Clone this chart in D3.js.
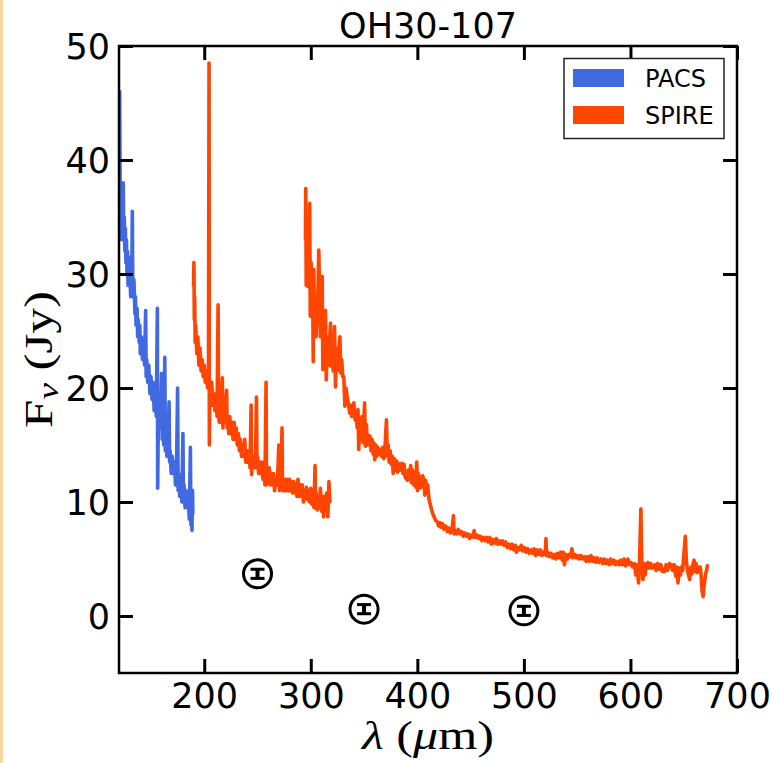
<!DOCTYPE html>
<html><head><meta charset="utf-8">
<script src="https://cdn.jsdelivr.net/npm/d3@7"></script>
<style>body{margin:0;background:#fff}svg{display:block}</style>
</head><body>
<script>
const title = "OH30-107";
const xTicks = [200,300,400,500,600,700];
const yTicks = [0,10,20,30,40,50];
const seriesNames = ["PACS","SPIRE"];
const seriesColors = ["#4169e1","#ff4500"];

const pacs = [[120.3,36],[120.6,46],[121,38],[121.5,35],[122,37],[122.5,33],[123,36],[123.5,34],[124,38],[124.5,33],[125,35],[125.5,32],[126,34],[126.5,31],[127,33],[127.5,30],[128,32],[128.5,29],[129,31.5],[129.5,29],[130,30.5],[131,28],[131.5,31],[132,29],[132.5,35.5],[133,28],[134,29.5],[135,26.5],[135.5,28],[136,25.5],[137,27],[137.5,24.5],[138,26],[139,24],[139.5,25.5],[140,23],[141,24.5],[142,22.5],[143,24],[144,22],[145,26.8],[145.5,21],[146,22.5],[147,20.5],[148,22],[149,19.5],[150,21],[151,19],[152,20.5],[153,18],[154,19.5],[155,17.5],[156,27],[156.3,11.2],[157,18],[158,16.5],[159,17.5],[160,21.3],[160.5,15.5],[161,16.8],[162,15],[163,22.7],[163.5,14.5],[164,16],[165,14],[166,15],[167,18.8],[167.5,13.5],[168,14.5],[169,12.5],[170,14],[171,12.5],[172,13.5],[173,11.5],[174,13],[175,20],[175.5,11],[176,12.5],[177,10.5],[178,12],[179,10],[180,16],[180.5,10],[181,11.5],[182,9.5],[183,11],[184,9.5],[185,10.5],[186,8.5],[187,14.8],[187.5,8],[188,9.5],[188.5,7.5],[189,11],[189.3,9]];

const ssw = [[190,29],[190.3,31],[190.7,26],[191,28],[191.5,24],[192,25.5],[193,23],[194,24.5],[195,22],[196,23.5],[197,21.5],[198,22.5],[199,21],[200,22],[201,20.5],[202,21.5],[203,20],[204,22],[204.5,48.5],[204.8,15],[205.3,20.5],[206,19],[207,20.5],[208,18.5],[209,19.5],[210,18],[211,19.5],[212,17.5],[213,27.3],[213.5,18],[214,17],[215,18.5],[216,17],[217,20.9],[217.5,16.5],[218,18],[219,17],[220,18.5],[221,19.8],[221.5,16.5],[222,17.5],[223,16],[224,17.5],[225,16],[226,17],[227,15.5],[228,17],[229,15.5],[230,16.5],[231,15],[232,16],[233,14.5],[234,15.5],[235,14],[236,15],[237,14],[238,15.5],[239,13.5],[240,14.5],[241,13.5],[242,14.5],[243,13],[244,18.5],[244.5,12.4],[245,14],[246,13],[247,14],[248,13],[249,19.2],[249.5,13],[250,14],[251,12.5],[252,13.5],[253,12.5],[254,13.5],[255,12],[256,13.5],[257,11.5],[258,20.5],[258.5,11.5],[259,13],[260,12],[261,13],[262,11.5],[263,12.5],[264,11.5],[265,12.5],[266,11],[267,12],[268,11.5],[269,12.5],[270,15],[270.5,11],[271,12.5],[272,11.5],[273,16.5],[273.5,11],[274,12],[275,11],[276,12],[277,11],[278,12],[279,11],[280,12],[281,11],[282,11.8],[283,10.8],[284,11.8],[285,10.8],[286,11.5],[287,10.5],[288,12],[289,10.5],[290,11.5],[291,10.5],[292,11.5],[293,10],[294,11],[295,10.3],[296,11.3],[297,10.2],[298,11],[299,10],[300,11.2],[301,9.8],[302,10.8],[303,9.5],[304,13.2],[304.5,9.5],[305,10.8],[306,9.3],[307,10.5],[308,9.5],[309,11.2],[310,9.2],[311,10.5],[312,8.7],[313,10.5],[314,9.5],[315,10.8],[316,8.7],[317,11.8],[318,10]];

const slw = [[295,33],[295.3,37.5],[295.7,29],[296.3,34],[297,28.9],[297.7,35],[298.3,29],[299,36.2],[299.5,26.3],[300.3,31],[301,27],[301.7,29],[302.3,22.3],[302.8,30.4],[303.5,25.5],[304.2,28],[305,24.5],[305.8,27],[306.5,27.4],[307.5,32.1],[308.3,28],[309,24.5],[309.7,27],[310.7,29.8],[311.3,21.6],[312,25],[312.8,22.5],[313.8,26.8],[314.5,20.7],[315.5,24.5],[316.5,22],[317.5,24],[318.5,25.7],[319.3,21.9],[320.2,24],[321,21.5],[322.3,25.4],[323.2,20.1],[324,23.5],[325,21.5],[326,23],[327.3,24.5],[328.2,21.3],[329,22.5],[330,21],[331,21],[332,18.4],[333,20],[334.2,19.2],[335.5,18.5],[336.5,17.8],[337.5,18.5],[338.5,17.5],[339.5,18],[340.4,18.7],[341.5,17.2],[342.5,17.8],[343.5,16.5],[344.3,18.1],[345,14.6],[346,17],[347,15.5],[348,17.5],[349,15.2],[350.5,18.7],[351.3,14.9],[352.2,16.8],[353.2,15],[354.5,15.4],[355.5,15.8],[356.5,14.5],[357.5,15.5],[358.5,14.2],[359.2,15.2],[360,13.7],[361,15],[362,14],[363,14.8],[364,14.2],[365.5,14.6],[366.5,14],[367.5,14.8],[368.5,13.8],[369.5,14.5],[371,17.2],[371.8,14],[372.7,15],[373.5,13.5],[374.5,14.5],[375.5,13.3],[376.5,14],[377.3,12.5],[378.5,13.8],[379.5,12.8],[380.5,13.6],[381.5,12.6],[382.5,13.4],[384.3,12.8],[385.5,13.4],[386.5,12.5],[387.5,13.3],[388.5,12.2],[390.6,11.9],[391.5,12.8],[392.5,12],[393.8,13.2],[394.5,11.7],[395.5,12.8],[396.5,11.5],[397.5,12.6],[398.5,11.3],[399.4,13.5],[400.2,11],[401,12.5],[402,11.2],[403,12.2],[404,11.3],[405,12.3],[406.3,11.9],[407,10.6],[407.9,11.9],[408.8,10.8],[409.7,11.5],[411,10.2],[412.6,9.6],[414,9.1],[415.7,8.7],[417,8.4],[418.5,8.3],[420,7.9],[421,8.2],[422,7.8],[423.5,8.1],[425,7.6],[426.5,7.9],[428.3,7.4],[429.5,7.7],[431,7.3],[432.5,7.6],[433.9,8.8],[434.5,7.2],[435.5,7.5],[437,7.2],[438.5,7.6],[440,7.2],[441.5,7.4],[443,7.0],[444.5,7.3],[446,7.0],[447.5,7.2],[449,6.8],[450.5,7.1],[452,6.9],[453.3,7.5],[454.5,6.9],[456,7.1],[457.5,6.8],[459,7.0],[460.5,6.6],[462,6.9],[463.5,6.6],[465,6.9],[466.5,6.5],[468,6.9],[469.5,6.3],[471,6.7],[472.5,6.4],[474,6.8],[475.5,6.3],[477,6.6],[478.4,6.3],[480,6.6],[481.5,6.2],[483,6.5],[484.5,6.0],[486,6.3],[487.5,5.9],[489,6.3],[490.5,5.8],[492,6.2],[493,5.6],[494.5,6.0],[496,5.8],[497.5,6.2],[499,5.7],[500.5,6.0],[502,5.6],[503.5,5.9],[505,5.5],[506.6,5.8],[508,5.5],[509.5,5.9],[511,5.3],[512.5,5.8],[514,5.4],[515.5,5.8],[517,5.3],[518.5,5.6],[520,5.4],[520.7,6.8],[521.3,5.3],[522.5,5.6],[524,5.2],[525.5,5.5],[527,5.1],[528.6,5.4],[530,5.0],[531.5,5.5],[533,5.1],[534.5,5.6],[536,4.9],[537,5.6],[538,4.5],[539.5,5.4],[541,5.0],[542.5,5.4],[544,5.2],[545,5.9],[546,5.1],[547.5,5.4],[549,5.1],[550.5,5.3],[552,5.0],[553.5,5.3],[555,5.0],[556.8,5.2],[558.5,4.8],[560,5.2],[561.5,4.8],[563,5.3],[564.5,4.8],[566,5.1],[567.5,4.7],[569,5.1],[570.5,4.7],[572.5,5.0],[574,4.6],[575.5,5.0],[577,4.6],[578.5,4.9],[580,4.5],[581.5,5.0],[583,4.6],[584.5,4.9],[586,4.5],[588.2,4.8],[589.5,4.5],[591,4.9],[592.5,4.5],[594,5.0],[595.5,4.4],[597.6,5.0],[599,4.5],[600.5,4.7],[602,4.3],[603.8,4.6],[605,3.6],[606,4.5],[607.6,2.9],[608.5,4.7],[609.8,9.4],[610.7,4.3],[611.7,3.2],[612.7,4.6],[613.8,3.6],[615,4.5],[616.4,4.7],[617.5,4.2],[619,4.6],[620.5,4.2],[622.6,4.5],[624,4.0],[625.5,4.6],[627,4.1],[628.5,4.5],[630,3.9],[632,3.9],[633.5,4.5],[635,4.0],[636.5,4.6],[638.3,4.5],[639.5,4.0],[641,4.5],[642.5,3.5],[643.5,4.3],[644.6,2.9],[645.7,4.2],[647,3.6],[647.7,4.3],[649,4.0],[650.2,5.5],[651.5,7.0],[652.5,4.8],[653.5,4.0],[654.5,3.6],[655.6,3.2],[656.7,4.3],[657.7,3.7],[658.7,4.5],[659.7,4.9],[660.7,3.9],[661.7,4.6],[662.5,3.8],[663.5,4.3],[664.5,3.9],[665.5,4.3],[666.5,3.4],[667.2,2.2],[668.2,1.7],[669.2,2.8],[670.5,3.6],[672.2,4.4]];

const errWave = [250, 350, 500];
const errFlux = [3.7, 0.6, 0.45];
const errSize = [0.4, 0.4, 0.4];

const W = 774, H = 763;
const m = {l:119, r:737, t:46, b:673};
const svg = d3.select("body").append("svg").attr("width",W).attr("height",H);
svg.append("rect").attr("width",W).attr("height",H).attr("fill","#fff");
svg.append("rect").attr("x",0).attr("y",0).attr("width",3).attr("height",H).attr("fill","#f6d6a3");

const x = d3.scaleLinear().domain([120,700]).range([m.l,m.r]);
const y = d3.scaleLinear().domain([-5,50]).range([m.b,m.t]);

svg.append("defs").append("clipPath").attr("id","clip")
  .append("rect").attr("x",m.l).attr("y",m.t).attr("width",m.r-m.l).attr("height",m.b-m.t);

const line = d3.line().x(d=>x(d[0])).y(d=>y(d[1]));
const g = svg.append("g").attr("clip-path","url(#clip)");
[[pacs,0],[ssw,1],[slw,1]].forEach(([data,ci])=>{
  g.append("path").datum(data).attr("d",line).attr("fill","none").attr("stroke",seriesColors[ci])
   .attr("stroke-width",3.6).attr("stroke-linejoin","round").attr("stroke-linecap","round");
});

// error markers
errWave.forEach((w,i)=>{
  const cx = x(w), cy = y(errFlux[i]);
  svg.append("circle").attr("cx",cx).attr("cy",cy).attr("r",14).attr("fill","none").attr("stroke","#000").attr("stroke-width",3);
  const y1 = y(errFlux[i]+errSize[i]), y2 = y(errFlux[i]-errSize[i]);
  svg.append("line").attr("x1",cx).attr("x2",cx).attr("y1",y1).attr("y2",y2).attr("stroke","#000").attr("stroke-width",4);
  [y1,y2].forEach(yy=>svg.append("line").attr("x1",cx-7).attr("x2",cx+7).attr("y1",yy).attr("y2",yy).attr("stroke","#000").attr("stroke-width",3));
});

// axes (ticks inward on all four sides)
const tl = 14;
const font = "DejaVu Sans";
const axB = svg.append("g").attr("transform",`translate(0,${m.b})`)
  .call(d3.axisBottom(x).tickValues(xTicks).tickSizeInner(-tl).tickSizeOuter(0).tickPadding(10).tickFormat(d3.format("d")));
const axT = svg.append("g").attr("transform",`translate(0,${m.t})`)
  .call(d3.axisTop(x).tickValues(xTicks).tickSizeInner(-tl).tickSizeOuter(0).tickFormat(""));
const axL = svg.append("g").attr("transform",`translate(${m.l},0)`)
  .call(d3.axisLeft(y).tickValues(yTicks).tickSizeInner(-tl).tickSizeOuter(0).tickPadding(9).tickFormat(d3.format("d")));
const axR = svg.append("g").attr("transform",`translate(${m.r},0)`)
  .call(d3.axisRight(y).tickValues(yTicks).tickSizeInner(-tl).tickSizeOuter(0).tickFormat(""));
[axB,axT,axL,axR].forEach(a=>{
  a.select(".domain").remove();
  a.selectAll(".tick line").attr("stroke","#000").attr("stroke-width",3);
  a.selectAll("text").attr("font-family",font).attr("font-size",35).attr("fill","#000");
});
axB.selectAll("text").attr("dy",null).attr("y",null).attr("transform","translate(0,35)");
axL.selectAll("text").attr("dy","0.36em");
svg.append("rect").attr("x",m.l).attr("y",m.t).attr("width",m.r-m.l).attr("height",m.b-m.t)
  .attr("fill","none").attr("stroke","#000").attr("stroke-width",2.5);

// title
svg.append("text").attr("x",(m.l+m.r)/2).attr("y",38).attr("text-anchor","middle")
  .attr("font-family",font).attr("font-size",35).attr("fill","#000").text(title);

// axis labels
const serif = "Liberation Serif";
const xl = svg.append("text").attr("x",(m.l+m.r)/2).attr("y",749).attr("text-anchor","middle")
  .attr("font-family",serif).attr("font-size",40).attr("fill","#000")
  .attr("textLength",132).attr("lengthAdjust","spacingAndGlyphs");
xl.append("tspan").attr("font-style","italic").text("λ");
xl.append("tspan").text(" (");
xl.append("tspan").attr("font-style","italic").text("μ");
xl.append("tspan").text("m)");

const yl = svg.append("text").attr("transform",`translate(52,${(m.t+m.b)/2}) rotate(-90)`).attr("text-anchor","middle")
  .attr("font-family",serif).attr("font-size",40).attr("fill","#000")
  .attr("textLength",137).attr("lengthAdjust","spacingAndGlyphs");
yl.append("tspan").text("F");
yl.append("tspan").attr("font-style","italic").attr("font-size",29).attr("dy",6).text("ν");
yl.append("tspan").attr("dy",-6).text(" (Jy)");

// legend
const lg = svg.append("g");
lg.append("rect").attr("x",564).attr("y",58.5).attr("width",160).attr("height",80)
  .attr("fill","#fff").attr("stroke","#222").attr("stroke-width",1.5);
seriesNames.forEach((n,i)=>{
  const yy = 69 + i*37;
  lg.append("rect").attr("x",573).attr("y",yy).attr("width",51).attr("height",18).attr("fill",seriesColors[i]);
  lg.append("text").attr("x",645).attr("y",yy+17.5).attr("font-family",font).attr("font-size",24).attr("fill","#000").text(n);
});
</script>
</body></html>
